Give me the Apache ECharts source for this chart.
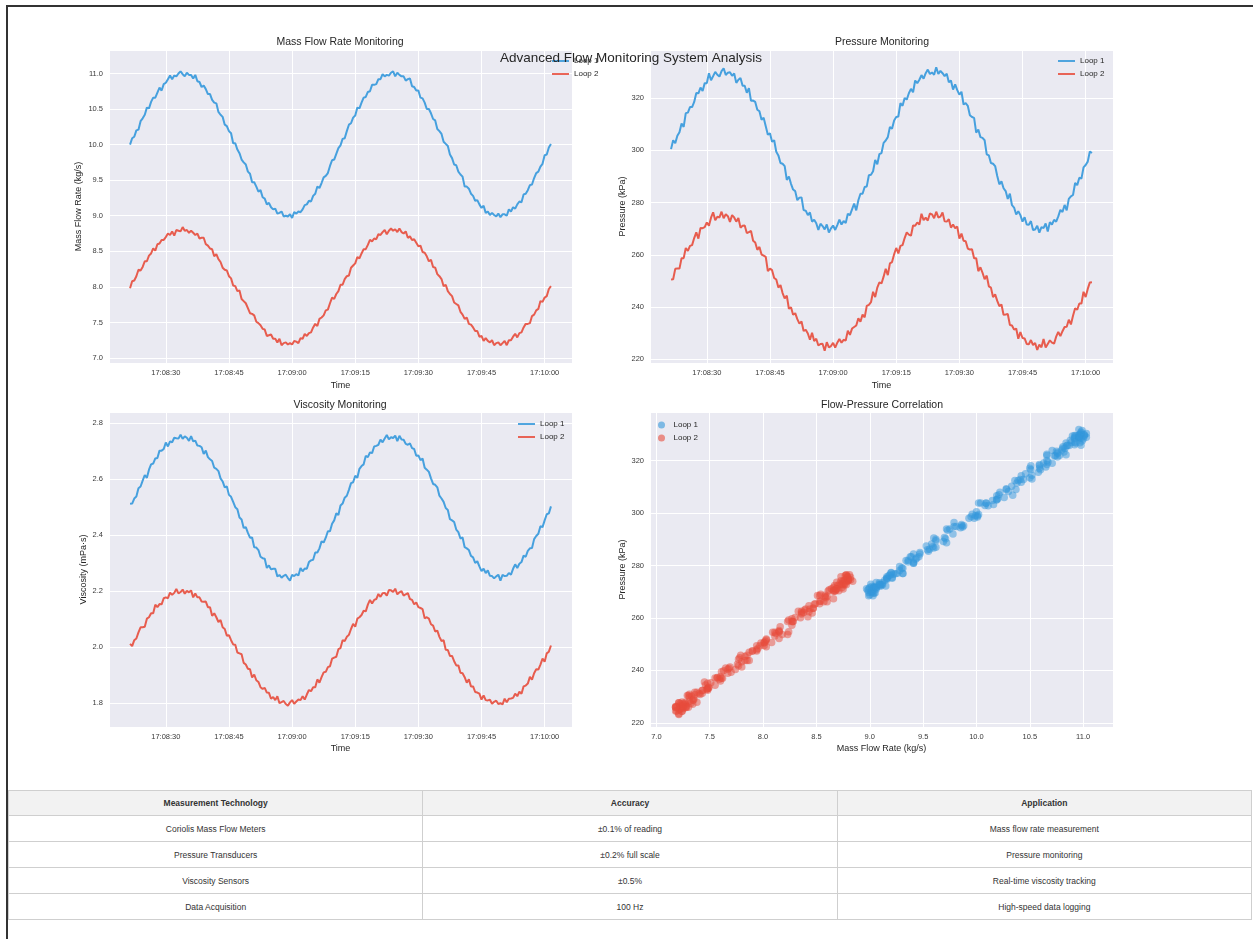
<!DOCTYPE html>
<html><head><meta charset="utf-8">
<script src="https://cdn.jsdelivr.net/npm/echarts@6/dist/echarts.min.js"></script>
<style>
html,body{margin:0;padding:0;background:#fff;width:1253px;height:939px;overflow:hidden;font-family:'Liberation Sans',Arial,sans-serif;}
#frame{position:absolute;left:6px;top:5px;width:1300px;height:1000px;border-left:2px solid #333;border-top:2px solid #333;}
#chart{position:absolute;left:0;top:0;width:1253px;height:780px;}
#tbl{position:absolute;left:8px;top:790px;width:1244px;border-collapse:collapse;font-size:8.5px;color:#333;table-layout:fixed;}
#tbl th,#tbl td{text-align:center;border:1px solid #cfcfcf;padding:0;}
#tbl th{background:#f2f2f2;height:24px;font-weight:bold;}
#tbl td{height:25px;}
</style></head>
<body>
<div id="frame"></div>
<div id="chart"></div>
<table id="tbl"><thead><tr id="thead"></tr></thead><tbody id="tbody"></tbody></table>
<script>
// ---- data ----
const timeStart = 61701.5;   // 17:08:21.5 (seconds of day)
const sampleStep = 0.5;      // seconds between samples
const loopNames = ['Loop 1', 'Loop 2'];
const massFlowLoop1 = [
10.00,10.09,10.11,10.20,10.21,10.33,10.37,10.42,10.52,10.51,
10.60,10.66,10.66,10.73,10.80,10.76,10.85,10.87,10.92,10.97,
10.92,10.97,10.96,11.00,11.03,10.99,10.96,11.01,10.98,10.98,
10.93,10.98,10.89,10.88,10.81,10.83,10.78,10.71,10.71,10.63,
10.59,10.58,10.46,10.42,10.39,10.28,10.26,10.19,10.16,10.02,
10.02,9.93,9.88,9.79,9.75,9.72,9.62,9.59,9.47,9.47,
9.41,9.34,9.36,9.26,9.24,9.16,9.18,9.12,9.09,9.10,
9.03,9.04,9.06,8.99,9.00,8.99,9.02,8.97,9.05,9.03,
9.06,9.05,9.09,9.15,9.16,9.21,9.20,9.28,9.31,9.41,
9.39,9.46,9.54,9.56,9.60,9.70,9.78,9.79,9.87,9.95,
9.99,10.08,10.09,10.19,10.28,10.30,10.38,10.41,10.52,10.51,
10.59,10.66,10.67,10.74,10.75,10.84,10.84,10.85,10.92,10.92,
10.99,10.96,10.98,10.97,11.01,11.03,10.96,11.01,10.98,10.96,
10.96,10.90,10.92,10.93,10.82,10.81,10.76,10.76,10.66,10.65,
10.59,10.50,10.50,10.44,10.36,10.34,10.22,10.19,10.15,10.04,
10.01,9.98,9.86,9.81,9.72,9.71,9.62,9.58,9.55,9.41,
9.41,9.38,9.31,9.28,9.21,9.22,9.16,9.11,9.14,9.04,
9.06,9.01,9.04,9.01,8.99,9.03,8.98,9.02,9.02,9.00,
9.09,9.06,9.12,9.10,9.16,9.20,9.19,9.30,9.31,9.36,
9.43,9.44,9.53,9.60,9.62,9.69,9.73,9.85,9.86,9.96,
10.01];
const massFlowLoop2 = [
7.98,8.08,8.09,8.15,8.24,8.23,8.28,8.36,8.36,8.44,
8.47,8.54,8.51,8.60,8.61,8.66,8.66,8.70,8.75,8.73,
8.78,8.72,8.80,8.79,8.78,8.84,8.79,8.80,8.76,8.79,
8.76,8.73,8.75,8.68,8.69,8.69,8.60,8.58,8.54,8.53,
8.43,8.46,8.39,8.35,8.27,8.24,8.23,8.15,8.12,8.02,
8.01,7.94,7.95,7.83,7.80,7.77,7.70,7.63,7.62,7.60,
7.51,7.49,7.46,7.41,7.40,7.31,7.32,7.33,7.27,7.27,
7.22,7.27,7.18,7.21,7.22,7.19,7.21,7.19,7.24,7.23,
7.21,7.28,7.27,7.34,7.31,7.35,7.36,7.43,7.48,7.45,
7.55,7.57,7.60,7.67,7.68,7.77,7.85,7.83,7.90,7.94,
8.03,8.03,8.11,8.15,8.16,8.27,8.30,8.33,8.42,8.40,
8.47,8.53,8.53,8.59,8.66,8.64,8.68,8.67,8.74,8.73,
8.77,8.80,8.74,8.79,8.82,8.79,8.81,8.77,8.82,8.77,
8.75,8.78,8.69,8.71,8.66,8.67,8.62,8.57,8.58,8.49,
8.48,8.43,8.36,8.38,8.28,8.27,8.18,8.15,8.11,8.01,
8.03,7.94,7.90,7.87,7.78,7.76,7.74,7.65,7.61,7.55,
7.57,7.48,7.47,7.43,7.38,7.38,7.30,7.31,7.24,7.28,
7.24,7.22,7.25,7.18,7.21,7.22,7.18,7.21,7.24,7.18,
7.25,7.25,7.30,7.34,7.29,7.35,7.36,7.43,7.48,7.48,
7.49,7.59,7.61,7.67,7.69,7.80,7.79,7.85,7.87,7.97,
8.01];
const pressureLoop1 = [
300.5,303.9,302.8,305.6,307.0,310.3,309.0,314.3,314.5,316.6,
316.6,318.6,322.0,321.9,324.1,322.8,325.8,325.8,329.6,326.9,
328.5,330.1,329.0,328.3,330.4,331.5,328.9,329.8,330.0,328.6,
329.5,325.9,327.1,327.8,324.8,324.8,322.1,323.9,319.0,319.1,
318.6,315.6,315.0,311.8,312.5,309.3,306.0,306.6,303.3,303.9,
299.5,298.1,295.2,294.9,294.0,288.7,290.0,287.2,285.0,284.4,
280.9,281.9,282.0,277.1,276.9,275.2,276.2,272.7,273.4,272.1,
269.5,271.9,271.0,269.7,271.6,268.5,270.1,271.2,269.5,271.4,
273.5,271.6,272.9,272.2,275.7,275.2,277.4,279.6,277.0,280.9,
283.4,283.4,286.0,286.2,290.5,290.7,292.0,296.4,294.7,298.6,
299.0,302.9,303.8,305.1,309.0,308.3,311.5,312.8,313.0,318.1,
317.1,320.1,319.5,321.9,323.6,322.3,326.8,325.8,327.1,328.9,
327.5,329.6,331.0,329.3,329.9,329.0,331.9,329.3,330.5,329.6,
328.5,329.4,326.1,326.8,323.3,325.3,323.1,321.4,322.5,317.6,
318.1,317.1,313.5,312.8,312.5,306.8,308.0,305.1,304.8,303.9,
298.5,298.1,295.2,294.9,294.0,290.2,287.0,288.2,285.5,284.4,
281.4,283.4,279.0,278.1,275.4,276.7,275.2,272.7,274.4,271.6,
271.5,272.9,269.5,269.7,271.1,268.5,270.6,270.2,272.0,268.9,
272.5,271.6,273.4,272.7,274.7,277.2,276.4,279.1,277.0,281.4,
282.4,282.9,287.5,286.7,289.5,289.2,293.5,294.4,295.7,299.6,
299.0];
const pressureLoop2 = [
250.5,250.6,254.6,254.7,254.7,258.7,258.7,262.6,261.5,263.4,
263.7,266.4,268.6,266.2,270.3,270.2,270.6,272.4,271.1,274.2,
276.3,273.2,274.6,274.3,276.5,274.0,275.5,274.8,272.6,275.2,
274.3,272.7,274.1,270.4,271.1,271.2,268.3,268.7,269.1,265.4,
264.7,261.9,263.0,260.1,259.7,259.2,253.7,254.7,254.1,251.1,
250.5,247.4,248.4,245.3,243.3,244.3,239.3,239.9,237.0,237.6,
235.3,233.6,234.4,230.8,231.2,229.8,227.4,230.1,226.9,227.8,
225.2,225.8,225.9,223.2,226.5,224.5,225.0,226.2,224.4,226.3,
227.7,226.3,227.4,227.1,230.9,229.3,231.7,232.3,232.9,235.6,
234.3,237.1,236.0,240.4,240.8,241.8,245.8,243.8,247.4,249.4,
249.0,251.6,254.6,252.2,256.7,257.2,260.2,262.6,260.5,263.4,
263.7,266.4,268.6,267.7,267.3,271.2,271.1,272.4,271.6,275.7,
273.3,274.2,273.1,275.8,275.5,274.0,276.5,274.3,274.6,276.2,
272.8,272.7,273.6,270.4,271.6,270.2,270.8,266.2,268.1,265.4,
265.2,262.4,262.0,262.1,258.7,258.7,253.7,255.2,253.1,250.6,
252.0,247.9,247.4,243.8,244.8,242.3,240.3,240.9,237.0,237.1,
237.3,233.1,232.9,231.3,231.7,227.8,230.4,228.1,227.9,225.8,
225.7,227.3,225.4,226.2,223.5,225.5,224.5,227.7,224.4,225.8,
227.2,226.3,225.9,228.6,230.4,228.8,230.7,232.3,232.4,235.1,
233.3,236.6,239.5,238.9,241.3,241.3,245.8,243.8,246.9,249.4,
249.5];
const viscosityLoop1 = [
2.512,2.513,2.531,2.538,2.568,2.574,2.595,2.615,2.605,2.634,
2.653,2.656,2.674,2.676,2.702,2.702,2.708,2.731,2.717,2.735,
2.732,2.748,2.746,2.745,2.759,2.744,2.753,2.748,2.737,2.754,
2.735,2.738,2.720,2.719,2.714,2.690,2.702,2.679,2.671,2.665,
2.641,2.637,2.629,2.603,2.592,2.571,2.574,2.544,2.537,2.519,
2.500,2.493,2.463,2.456,2.426,2.429,2.408,2.391,2.392,2.357,
2.356,2.347,2.323,2.318,2.316,2.283,2.292,2.278,2.280,2.280,
2.253,2.258,2.248,2.255,2.259,2.247,2.238,2.258,2.254,2.261,
2.256,2.283,2.271,2.281,2.280,2.304,2.310,2.312,2.338,2.338,
2.353,2.378,2.374,2.391,2.414,2.414,2.441,2.453,2.478,2.472,
2.506,2.513,2.534,2.541,2.562,2.586,2.589,2.612,2.605,2.637,
2.647,2.653,2.683,2.679,2.696,2.693,2.717,2.719,2.723,2.741,
2.732,2.745,2.758,2.742,2.750,2.747,2.756,2.736,2.755,2.742,
2.741,2.726,2.723,2.728,2.711,2.708,2.684,2.685,2.668,2.674,
2.641,2.634,2.626,2.603,2.583,2.580,2.571,2.541,2.531,2.519,
2.497,2.490,2.457,2.453,2.447,2.420,2.411,2.388,2.392,2.357,
2.353,2.347,2.326,2.321,2.301,2.307,2.289,2.272,2.280,2.265,
2.274,2.255,2.254,2.246,2.253,2.259,2.238,2.258,2.254,2.255,
2.265,2.259,2.280,2.296,2.283,2.298,2.304,2.327,2.323,2.344,
2.353,2.354,2.386,2.397,2.405,2.432,2.429,2.453,2.475,2.478,
2.503];
const viscosityLoop2 = [
2.012,2.004,2.025,2.031,2.053,2.071,2.071,2.073,2.102,2.107,
2.121,2.121,2.152,2.143,2.154,2.153,2.175,2.178,2.175,2.195,
2.187,2.194,2.208,2.192,2.197,2.206,2.191,2.201,2.196,2.203,
2.178,2.192,2.178,2.178,2.163,2.162,2.163,2.143,2.143,2.112,
2.121,2.107,2.090,2.097,2.071,2.065,2.041,2.043,2.025,2.010,
2.009,1.981,1.978,1.975,1.944,1.938,1.923,1.921,1.892,1.902,
1.882,1.876,1.857,1.851,1.855,1.838,1.837,1.816,1.822,1.811,
1.825,1.800,1.804,1.808,1.797,1.791,1.803,1.811,1.798,1.806,
1.813,1.811,1.825,1.813,1.831,1.847,1.843,1.857,1.857,1.885,
1.873,1.893,1.910,1.912,1.929,1.932,1.959,1.963,1.966,1.993,
1.997,2.025,2.022,2.037,2.044,2.065,2.083,2.073,2.102,2.107,
2.115,2.130,2.128,2.152,2.169,2.156,2.169,2.172,2.190,2.180,
2.193,2.194,2.184,2.204,2.203,2.197,2.209,2.189,2.196,2.200,
2.184,2.189,2.193,2.172,2.169,2.153,2.160,2.143,2.140,2.136,
2.103,2.107,2.102,2.082,2.077,2.056,2.059,2.037,2.022,2.025,
1.991,1.990,1.969,1.969,1.950,1.935,1.935,1.909,1.907,1.893,
1.873,1.885,1.860,1.860,1.840,1.838,1.834,1.813,1.828,1.811,
1.810,1.812,1.798,1.805,1.809,1.797,1.800,1.796,1.816,1.803,
1.816,1.817,1.819,1.834,1.825,1.841,1.834,1.860,1.863,1.870,
1.894,1.884,1.907,1.921,1.920,1.938,1.959,1.948,1.978,1.984,
2.006];
const tableHeader = ['Measurement Technology', 'Accuracy', 'Application'];
const tableTechnology = ['Coriolis Mass Flow Meters', 'Pressure Transducers', 'Viscosity Sensors', 'Data Acquisition'];
const tableAccuracy = ['±0.1% of reading', '±0.2% full scale', '±0.5%', '100 Hz'];
const tableApplication = ['Mass flow rate measurement', 'Pressure monitoring', 'Real-time viscosity tracking', 'High-speed data logging'];

// ---- table ----
const thead = document.getElementById('thead');
tableHeader.forEach(h => { const th = document.createElement('th'); th.textContent = h; thead.appendChild(th); });
const tbody = document.getElementById('tbody');
tableTechnology.forEach((t, i) => {
  const tr = document.createElement('tr');
  [t, tableAccuracy[i], tableApplication[i]].forEach(c => { const td = document.createElement('td'); td.textContent = c; tr.appendChild(td); });
  tbody.appendChild(tr);
});

// ---- chart ----
const FONT = "'Liberation Sans', Arial, sans-serif";
const BLUE = '#3498db', RED = '#e74c3c';
const times = massFlowLoop1.map((_, i) => timeStart + i * sampleStep);
const pair = (ys) => ys.map((v, i) => [times[i], v]);
const pad2 = n => (n < 10 ? '0' : '') + n;
const hms = v => { const s = Math.round(v); return pad2(Math.floor(s / 3600)) + ':' + pad2(Math.floor((s % 3600) / 60)) + ':' + pad2(s % 60); };

const axisText = { fontSize: 7.5, color: '#3a3a3a', fontFamily: FONT };
const nameText = { fontSize: 9, color: '#262626', fontFamily: FONT };
const split = { show: true, lineStyle: { color: '#ffffff', width: 1 } };

function timeAxis(grid, gap) {
  return { gridIndex: grid, type: 'value', min: 61696.5, max: 61806.5, minInterval: 15, maxInterval: 15,
    axisLine: { show: false }, axisTick: { show: false }, splitLine: split,
    axisLabel: Object.assign({ formatter: hms, margin: 6, showMinLabel: false, showMaxLabel: false }, axisText),
    name: 'Time', nameLocation: 'middle', nameGap: gap, nameTextStyle: nameText };
}
function valAxis(grid, min, max, step, dec, name, gap) {
  return { gridIndex: grid, type: 'value', min: min, max: max, minInterval: step, maxInterval: step,
    axisLine: { show: false }, axisTick: { show: false }, splitLine: split,
    axisLabel: Object.assign({ formatter: v => v.toFixed(dec), margin: 6, showMinLabel: false, showMaxLabel: false }, axisText),
    name: name, nameLocation: 'middle', nameGap: gap, nameTextStyle: nameText };
}
function lineSeries(name, color, grid, data) {
  return { type: 'line', name: name, xAxisIndex: grid, yAxisIndex: grid, data: pair(data),
    symbol: 'none', showSymbol: false, color: color,
    lineStyle: { color: color, width: 2, opacity: 0.9 }, itemStyle: { color: color }, z: 2 };
}
function legendAt(left, top, isScatter) {
  const lg = { orient: 'vertical', left: left, top: top, padding: 0, itemGap: 3,
    textStyle: { fontSize: 8, color: '#262626', fontFamily: FONT, lineHeight: 10 }, selectedMode: false };
  if (isScatter) {
    lg.itemWidth = 14; lg.itemHeight = 7;
    lg.data = [{ name: loopNames[0], icon: 'circle', itemStyle: { color: BLUE, opacity: 0.6 } },
               { name: loopNames[1], icon: 'circle', itemStyle: { color: RED, opacity: 0.6 } }];
  } else {
    lg.itemWidth = 17; lg.itemHeight = 2;
    lg.data = [{ name: loopNames[0], icon: 'rect', itemStyle: { color: BLUE, opacity: 0.85 } },
               { name: loopNames[1], icon: 'rect', itemStyle: { color: RED, opacity: 0.85 } }];
  }
  return lg;
}
function titleText(txt, x, y, size) {
  return { type: 'text', x: x, y: y, z: 100,
    style: { text: txt, textAlign: 'center', textVerticalAlign: 'middle', fontSize: size, fontFamily: FONT, fill: '#262626' } };
}
const gridBase = { show: true, backgroundColor: '#EAEAF2', borderWidth: 0, containLabel: false };

const option = {
  animation: false,
  textStyle: { fontFamily: FONT },
  grid: [
    Object.assign({ left: 109, top: 50, width: 463, height: 313 }, gridBase),
    Object.assign({ left: 650, top: 50, width: 463, height: 313 }, gridBase),
    Object.assign({ left: 109, top: 412, width: 463, height: 315 }, gridBase),
    Object.assign({ left: 650, top: 412, width: 463, height: 315 }, gridBase)
  ],
  xAxis: [
    timeAxis(0, 18),
    timeAxis(1, 18),
    timeAxis(2, 17),
    valAxis(3, 6.94, 11.28, 0.5, 1, 'Mass Flow Rate (kg/s)', 17)
  ],
  yAxis: [
    valAxis(0, 6.93, 11.33, 0.5, 1, 'Mass Flow Rate (kg/s)', 26),
    valAxis(1, 218.5, 338.5, 20, 0, 'Pressure (kPa)', 23),
    valAxis(2, 1.715, 2.84, 0.2, 1, 'Viscosity (mPa·s)', 21),
    valAxis(3, 218.4, 338.6, 20, 0, 'Pressure (kPa)', 23)
  ],
  legend: [
    legendAt(552, 56), legendAt(1058, 56), legendAt(518, 419), legendAt(658, 420, true)
  ],
  graphic: [
    titleText('Mass Flow Rate Monitoring', 340, 42, 10.5),
    titleText('Pressure Monitoring', 882, 42, 10.5),
    titleText('Viscosity Monitoring', 340, 405, 10.5),
    titleText('Flow-Pressure Correlation', 882, 405, 10.5),
    titleText('Advanced Flow Monitoring System Analysis', 631, 58, 13.5)
  ],
  series: [
    lineSeries(loopNames[0], BLUE, 0, massFlowLoop1),
    lineSeries(loopNames[1], RED, 0, massFlowLoop2),
    lineSeries(loopNames[0], BLUE, 1, pressureLoop1),
    lineSeries(loopNames[1], RED, 1, pressureLoop2),
    lineSeries(loopNames[0], BLUE, 2, viscosityLoop1),
    lineSeries(loopNames[1], RED, 2, viscosityLoop2),
    { type: 'scatter', name: loopNames[0], xAxisIndex: 3, yAxisIndex: 3, symbolSize: 7.5,
      data: massFlowLoop1.map((v, i) => [v, pressureLoop1[i]]), itemStyle: { color: BLUE, opacity: 0.5 } },
    { type: 'scatter', name: loopNames[1], xAxisIndex: 3, yAxisIndex: 3, symbolSize: 7.5,
      data: massFlowLoop2.map((v, i) => [v, pressureLoop2[i]]), itemStyle: { color: RED, opacity: 0.5 } }
  ]
};
const chart = echarts.init(document.getElementById('chart'), null, { renderer: 'canvas' });
chart.setOption(option);
</script>
</body></html>
